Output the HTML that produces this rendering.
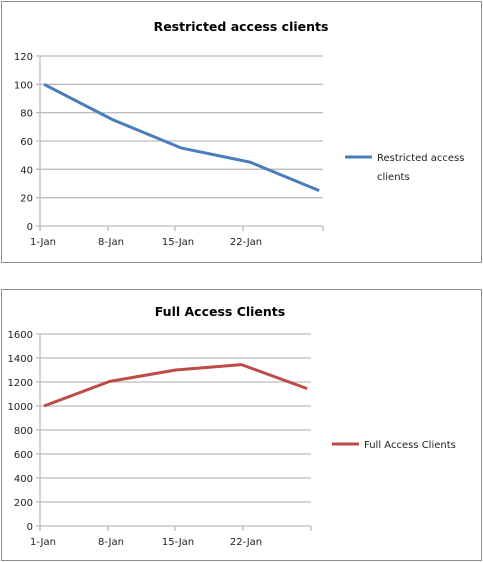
<!DOCTYPE html>
<html><head><meta charset="utf-8"><style>
html,body{margin:0;padding:0;background:#fff;width:483px;height:562px;overflow:hidden}
svg{display:block;font-family:"DejaVu Sans","Liberation Sans",sans-serif}
</style></head><body>
<svg id="s" width="483" height="562"></svg>
<script>
const cats1=["1-Jan","8-Jan","15-Jan","22-Jan",""];
const vals1=[100,75,55,45,25];
const ticks1=[0,20,40,60,80,100,120];
const cats2=["1-Jan","8-Jan","15-Jan","22-Jan",""];
const vals2=[1000,1205,1300,1345,1145];
const ticks2=[0,200,400,600,800,1000,1200,1400,1600];
const NS="http://www.w3.org/2000/svg";
const svg=document.getElementById('s');
function mk(t,a,p){const e=document.createElementNS(NS,t);for(const k in a)e.setAttribute(k,a[k]);(p||svg).appendChild(e);return e;}
function chart(o){
  const g=mk('g',{});
  
  
  const b=mk('rect',{x:o.bx,y:o.by,width:o.bw,height:o.bh,fill:'#fff',stroke:'#8c8c8c','stroke-width':1},g);
  
  
  const t=mk('text',{x:o.tx,y:o.ty,'text-anchor':'middle','font-size':12.5,'font-weight':'bold',fill:'#000'},g);
  t.textContent=o.title;
  
  
  const max=o.ticks[o.ticks.length-1];
  const y=v=>o.bot-(v/max)*(o.bot-o.top);
  const x=i=>o.px0+i*o.pdx;
  o.ticks.forEach(v=>{
    const l=mk('line',{x1:o.left-4,x2:o.right,y1:y(v),y2:y(v),stroke:'#bdbdbd','stroke-width':1.3},g);
    
    
    const tl=mk('text',{x:o.left-7,y:y(v)+4,'text-anchor':'end','font-size':10,fill:'#222'},g);
    tl.textContent=v;
    
    
  });
  const ax=mk('line',{x1:o.left,x2:o.left,y1:o.top,y2:o.bot+4,stroke:'#bdbdbd','stroke-width':1.3},g);
  
  
  o.xt.forEach((xx,i)=>{
    const tk=mk('line',{x1:xx,x2:xx,y1:o.bot,y2:o.bot+5,stroke:'#bdbdbd','stroke-width':1.3},g);
    
    
    const lb=mk('text',{x:xx+3,y:o.bot+19,'text-anchor':'middle','font-size':10,fill:'#222'},g);
    lb.textContent=o.cats[i];
    
    
  });
  const pts=o.vals.map((v,i)=>x(i)+','+y(v)).join(' ');
  const pl=mk('polyline',{points:pts,fill:'none',stroke:o.color,'stroke-width':3,'stroke-linejoin':'round'},g);
  
  
  const ll=mk('line',{x1:o.lx,x2:o.lx+27,y1:o.ly,y2:o.ly,stroke:o.color,'stroke-width':3},g);
  
  
  o.legend.forEach((s,i)=>{
    const lt=mk('text',{x:o.lx+32,y:o.ly+4+i*19,'font-size':10,fill:'#222'},g);
    lt.textContent=s;
    
    
  });
}
chart({name:'restricted-access-chart',bx:1.5,by:1.5,bw:480,bh:261,title:'Restricted access clients',tx:241,ty:31,
  left:40,right:323,top:56,bot:226,px0:44,pdx:68.8,xt:[40,108,175,243,323],cats:cats1,vals:vals1,ticks:ticks1,
  color:'#4a7ebb',lx:345,ly:157,legend:['Restricted access','clients']});
chart({name:'full-access-chart',bx:1.5,by:289.5,bw:480,bh:271,title:'Full Access Clients',tx:220,ty:316,
  left:40,right:311,top:334,bot:526,px0:44,pdx:65.8,xt:[40,108,175,243,311],cats:cats2,vals:vals2,ticks:ticks2,
  color:'#be4b48',lx:332,ly:444,legend:['Full Access Clients']});
</script>
</body></html>
